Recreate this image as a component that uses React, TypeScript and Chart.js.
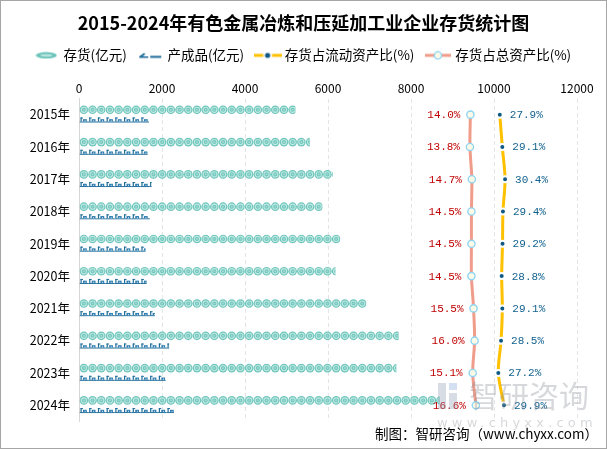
import React, { useEffect, useRef } from 'react';
import { Chart, registerables } from 'chart.js';

Chart.register(...registerables);

const years = ['2015年', '2016年', '2017年', '2018年', '2019年', '2020年', '2021年', '2022年', '2023年', '2024年'];
const inventory = [5215, 5560, 6113, 5865, 6298, 6178, 6924, 7702, 7646, 8690];
const finishedGoods = [1685, 1653, 1750, 1709, 1605, 1630, 1829, 2173, 2087, 2287];
const currentAssetRatio = [27.9, 29.1, 30.4, 29.4, 29.2, 28.8, 29.1, 28.5, 27.2, 29.9];
const totalAssetRatio = [14.0, 13.8, 14.7, 14.5, 14.5, 14.5, 15.5, 16.0, 15.1, 16.6];
const xTickValues = [0, 2000, 4000, 6000, 8000, 10000, 12000];
const seriesNames = ['存货(亿元)', '产成品(亿元)', '存货占流动资产比(%)', '存货占总资产比(%)'];
const titleText = '2015-2024年有色金属冶炼和压延加工业企业存货统计图';
const sourceText = '制图：智研咨询（www.chyxx.com）';

const FONT = "'Noto Sans CJK SC', 'Noto Sans', sans-serif";
const TEAL = '#6fc6bc';
const TEAL_LIGHT = '#bfe8e2';
const DARK_BLUE = '#1d6c9a';
const YELLOW = '#ffc000';
const SALMON = '#f09c8a';

function makeCanvas(w: number, h: number, draw: (c: CanvasRenderingContext2D) => void) {
  const c = document.createElement('canvas');
  c.width = w;
  c.height = h;
  const ctx = c.getContext('2d')!;
  draw(ctx);
  return c;
}

function drawCoin(ctx: CanvasRenderingContext2D, cx: number, cy: number, r: number) {
  ctx.beginPath();
  ctx.arc(cx, cy, r, 0, Math.PI * 2);
  ctx.fillStyle = TEAL;
  ctx.fill();
  ctx.beginPath();
  ctx.arc(cx, cy, r * 0.6, 0, Math.PI * 2);
  ctx.strokeStyle = TEAL_LIGHT;
  ctx.lineWidth = 1.1;
  ctx.stroke();
  ctx.beginPath();
  ctx.arc(cx, cy, r * 0.25, 0, Math.PI * 2);
  ctx.fillStyle = '#9cd9d1';
  ctx.fill();
}

function drawIcon(ctx: CanvasRenderingContext2D, x0: number, top: number, h: number, w: number) {
  ctx.fillStyle = DARK_BLUE;
  ctx.fillRect(x0, top + h - 1, w, 1);
  ctx.fillRect(x0 + 1, top + 1, 1.2, h - 2);
  ctx.fillRect(x0 + 1, top + 1, 2.5, 1);
  ctx.fillStyle = '#2f7db0';
  ctx.fillRect(x0 + 3.5, top + h * 0.45, 3.8, h * 0.55 - 1);
  ctx.fillStyle = '#ffffff';
  ctx.fillRect(x0 + 5.2, top + h * 0.45 + 1, 0.7, h * 0.55 - 2);
}

const pictorialPlugin = {
  id: 'pictorial',
  afterDatasetDraw(chart: any, args: any) {
    const meta = args.meta;
    if (meta.type !== 'bar') return;
    const ctx = chart.ctx as CanvasRenderingContext2D;
    const step = 8.7;
    meta.data.forEach((bar: any) => {
      const p = bar.getProps(['x', 'y', 'base', 'height'], true);
      const left = Math.min(p.base, p.x);
      const right = Math.max(p.base, p.x);
      const top = p.y - p.height / 2;
      ctx.save();
      ctx.beginPath();
      ctx.rect(left, top - 0.5, right - left, p.height + 1);
      ctx.clip();
      for (let x = left; x < right; x += step) {
        if (args.index === 0) {
          drawCoin(ctx, x + step / 2, p.y, p.height / 2);
        } else {
          drawIcon(ctx, x, top, p.height, step);
        }
      }
      ctx.restore();
    });
  },
};

const labelPlugin = {
  id: 'pointLabels',
  afterDatasetsDraw(chart: any) {
    const ctx = chart.ctx as CanvasRenderingContext2D;
    ctx.save();
    ctx.font = "11px 'Liberation Mono', monospace";
    ctx.textBaseline = 'middle';
    const m2 = chart.getDatasetMeta(2);
    ctx.textAlign = 'left';
    ctx.fillStyle = '#13628f';
    m2.data.forEach((pt: any, i: number) => {
      ctx.fillText(currentAssetRatio[i].toFixed(1) + '%', pt.x + 10, pt.y + 0.5);
    });
    const m3 = chart.getDatasetMeta(3);
    ctx.textAlign = 'right';
    ctx.fillStyle = '#c00000';
    m3.data.forEach((pt: any, i: number) => {
      ctx.fillText(totalAssetRatio[i].toFixed(1) + '%', pt.x - 10, pt.y + 0.5);
    });
    ctx.restore();
  },
};

const watermarkPlugin = {
  id: 'watermark',
  afterDraw(chart: any) {
    const ctx = chart.ctx as CanvasRenderingContext2D;
    ctx.save();
    ctx.globalAlpha = 0.35;
    ctx.fillStyle = '#8f9bb3';
    ctx.fillRect(437, 382, 8, 26);
    ctx.fillRect(448, 392, 8, 16);
    ctx.fillStyle = '#7fa6d6';
    ctx.fillRect(448, 382, 8, 7);
    ctx.fillStyle = '#8a8f99';
    ctx.font = `30px ${FONT}`;
    ctx.textBaseline = 'middle';
    ctx.textAlign = 'left';
    ctx.fillText('智研咨询', 468, 395);
    ctx.font = `13px 'DejaVu Sans', sans-serif`;
    (ctx as any).letterSpacing = '4.2px';
    ctx.fillText('www.chyxx.com', 436, 423);
    ctx.restore();
  },
};

export default function App() {
  const ref = useRef<HTMLCanvasElement | null>(null);

  useEffect(() => {
    document.body.style.margin = '0';
    const icons = [
      makeCanvas(22, 8, (c) => {
        c.beginPath();
        c.ellipse(11, 4, 10.5, 3.3, 0, 0, Math.PI * 2);
        c.fillStyle = '#6cc4bb';
        c.fill();
        c.beginPath();
        c.ellipse(11, 4, 6, 1.3, 0, 0, Math.PI * 2);
        c.fillStyle = '#b8e4de';
        c.fill();
      }),
      makeCanvas(24, 8, (c) => {
        c.fillStyle = DARK_BLUE;
        c.beginPath();
        c.moveTo(1, 5);
        c.lineTo(6, 1.5);
        c.lineTo(7, 3);
        c.lineTo(4.5, 5);
        c.lineTo(10, 5);
        c.lineTo(10, 6.5);
        c.lineTo(1, 6.5);
        c.closePath();
        c.fill();
        c.fillRect(12, 4.5, 11, 2);
      }),
      makeCanvas(28, 10, (c) => {
        c.strokeStyle = YELLOW;
        c.lineWidth = 3;
        c.beginPath();
        c.moveTo(0, 5);
        c.lineTo(28, 5);
        c.stroke();
        c.beginPath();
        c.arc(14, 5, 4.5, 0, Math.PI * 2);
        c.fillStyle = '#ffffff';
        c.fill();
        c.beginPath();
        c.arc(14, 5, 2.6, 0, Math.PI * 2);
        c.fillStyle = '#0e5a85';
        c.fill();
      }),
      makeCanvas(26, 10, (c) => {
        c.strokeStyle = SALMON;
        c.lineWidth = 3;
        c.beginPath();
        c.moveTo(0, 5);
        c.lineTo(26, 5);
        c.stroke();
        c.beginPath();
        c.arc(13, 5, 3.6, 0, Math.PI * 2);
        c.fillStyle = '#fdfbe8';
        c.fill();
        c.lineWidth = 1.4;
        c.strokeStyle = '#8fd4f2';
        c.stroke();
      }),
    ];

    const chart = new Chart(ref.current!, {
      type: 'bar',
      data: {
        labels: years,
        datasets: [
          {
            type: 'bar',
            label: seriesNames[0],
            data: inventory,
            backgroundColor: 'rgba(0,0,0,0)',
            borderWidth: 0,
            maxBarThickness: 8.6,
            xAxisID: 'x',
            yAxisID: 'y',
            order: 2,
          },
          {
            type: 'bar',
            label: seriesNames[1],
            data: finishedGoods,
            backgroundColor: 'rgba(0,0,0,0)',
            borderWidth: 0,
            maxBarThickness: 6,
            xAxisID: 'x',
            yAxisID: 'y',
            order: 2,
          },
          {
            type: 'line',
            label: seriesNames[2],
            data: currentAssetRatio,
            indexAxis: 'y',
            xAxisID: 'x2',
            yAxisID: 'y',
            borderColor: YELLOW,
            borderWidth: 3,
            tension: 0.3,
            pointRadius: 3,
            pointBackgroundColor: '#0e5a85',
            pointBorderColor: '#ffffff',
            pointBorderWidth: 2,
            order: 0,
          } as any,
          {
            type: 'line',
            label: seriesNames[3],
            data: totalAssetRatio,
            indexAxis: 'y',
            xAxisID: 'x2',
            yAxisID: 'y',
            borderColor: SALMON,
            borderWidth: 3,
            tension: 0.3,
            pointRadius: 3.6,
            pointBackgroundColor: '#fdfbe8',
            pointBorderColor: '#8fd4f2',
            pointBorderWidth: 1.4,
            order: 0,
          } as any,
        ],
      },
      options: {
        indexAxis: 'y',
        animation: false,
        responsive: true,
        maintainAspectRatio: false,
        layout: { padding: { left: 8, right: 8, top: 0, bottom: 0 } },
        datasets: {
          bar: { categoryPercentage: 0.6, barPercentage: 1 },
        } as any,
        scales: {
          x: {
            type: 'linear',
            position: 'top',
            min: xTickValues[0],
            max: xTickValues[xTickValues.length - 1],
            afterBuildTicks: (s: any) => {
              s.ticks = xTickValues.map((v) => ({ value: v }));
            },
            afterFit: (s: any) => {
              s.height = 26.4;
            },
            ticks: {
              color: '#000',
              padding: 3,
              font: { size: 12, family: FONT },
              callback: (v: any) => String(v),
            },
            grid: { color: '#e4e4e4', drawTicks: false, lineWidth: 1 },
            border: { display: false, dash: [4, 3] },
          },
          x2: {
            type: 'linear',
            position: 'bottom',
            display: false,
            min: -171,
            max: 64.4,
          },
          y: {
            type: 'category',
            position: 'left',
            afterFit: (s: any) => {
              s.width = 70;
            },
            ticks: {
              color: '#000',
              padding: 9,
              font: { size: 12.5, family: FONT },
            },
            grid: { display: false, drawTicks: false },
            border: { display: true, color: '#d6d6d6', width: 1 },
          },
          yR: {
            type: 'category',
            position: 'right',
            axis: 'y',
            labels: years,
            display: true,
            afterFit: (s: any) => {
              s.width = 21;
            },
            ticks: { display: false },
            grid: { display: false, drawTicks: false },
            border: { display: false },
          } as any,
        },
        plugins: {
          title: {
            display: true,
            text: titleText,
            color: '#000',
            font: { size: 18, weight: 'bold', family: FONT },
            padding: { top: 11, bottom: 2 },
          },
          legend: {
            display: true,
            position: 'top',
            labels: {
              usePointStyle: true,
              pointStyleWidth: 21,
              boxHeight: 13,
              padding: 13,
              color: '#000',
              font: { size: 13.5, family: FONT },
              generateLabels: () =>
                seriesNames.map((t, i) => ({
                  text: t,
                  pointStyle: icons[i],
                  fillStyle: 'rgba(0,0,0,0)',
                  strokeStyle: 'rgba(0,0,0,0)',
                  lineWidth: 0,
                  hidden: false,
                  datasetIndex: i,
                  fontColor: '#000',
                })) as any,
            },
          },
          subtitle: {
            display: true,
            position: 'bottom',
            align: 'end',
            text: sourceText,
            color: '#000',
            font: { size: 13.5, family: FONT },
            padding: { top: 4.8, bottom: 5.6 },
          },
          tooltip: { enabled: false },
        },
      },
      plugins: [pictorialPlugin, labelPlugin, watermarkPlugin],
    });
    return () => chart.destroy();
  }, []);

  return (
    <div
      style={{
        position: 'absolute',
        left: 0,
        top: 0,
        width: 607,
        height: 449,
        border: '1px solid #a6a6a6',
        boxSizing: 'border-box',
        background: '#fff',
      }}
    >
      <div style={{ position: 'relative', width: 605, height: 447 }}>
        <canvas ref={ref} />
      </div>
    </div>
  );
}
